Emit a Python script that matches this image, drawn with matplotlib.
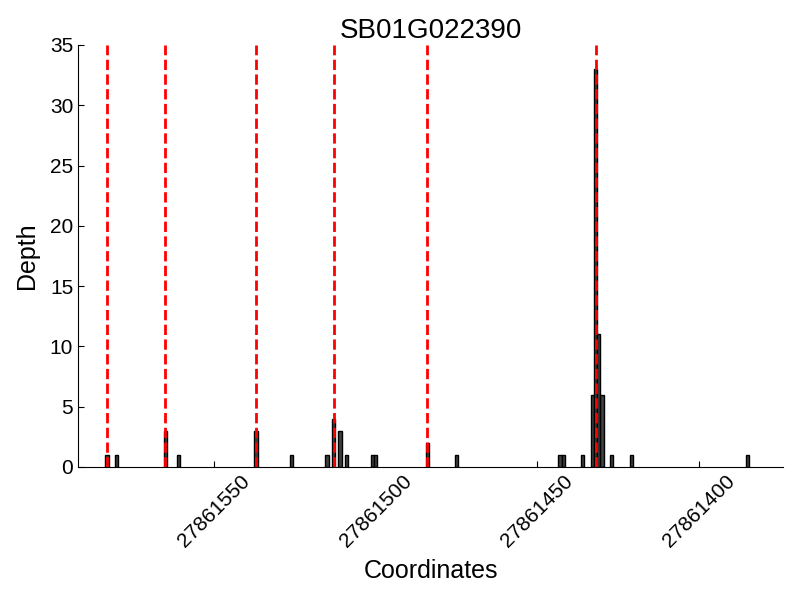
"""Read depth profile for one gene, with exon boundary markers."""

import matplotlib

matplotlib.use("Agg")
import matplotlib.pyplot as plt

TITLE = "SB01G022390"

# bar positions (genomic coordinate) and read depth
POSITIONS = [
    27861583, 27861580, 27861565, 27861561, 27861537, 27861526,
    27861515, 27861513, 27861511, 27861509, 27861501, 27861500,
    27861484, 27861475, 27861443, 27861442, 27861436, 27861433,
    27861432, 27861431, 27861430, 27861427, 27861421, 27861385,
]
DEPTHS = [
    1, 1, 3, 1, 3, 1,
    1, 4, 3, 1, 1, 1,
    2, 1, 1, 1, 1, 6,
    33, 11, 6, 1, 1, 1,
]

# boundary markers
MARKERS = [27861583, 27861565, 27861537, 27861513, 27861484, 27861432]

XTICKS = [27861550, 27861500, 27861450, 27861400]
XLIM = (27861592, 27861374)
YLIM = (0, 35)

plt.rcParams["font.family"] = ["Liberation Sans", "DejaVu Sans"]

fig = plt.figure(figsize=(8, 6), dpi=100)
ax = fig.add_axes([0.0975, 0.2217, 0.8815, 0.7033])

ax.bar(POSITIONS, DEPTHS, width=1.0, color="#404040", edgecolor="black",
       linewidth=1.0, zorder=2)
for pos in MARKERS:
    ax.axvline(pos, color="red", linestyle="--", linewidth=2.0, zorder=3)

ax.set_xlim(*XLIM)
ax.set_ylim(*YLIM)
ax.set_xticks(XTICKS)
ax.set_xticklabels([str(t) for t in XTICKS], rotation=45, ha="center")

ax.spines["top"].set_visible(False)
ax.spines["right"].set_visible(False)
ax.tick_params(direction="in", length=4, width=0.8, labelsize=15,
               top=False, right=False)

ax.set_title(TITLE, fontsize=20, pad=5)
ax.set_xlabel("Coordinates", fontsize=18, labelpad=6)
ax.set_ylabel("Depth", fontsize=18, labelpad=8)

fig.savefig("out.png", dpi=100)
